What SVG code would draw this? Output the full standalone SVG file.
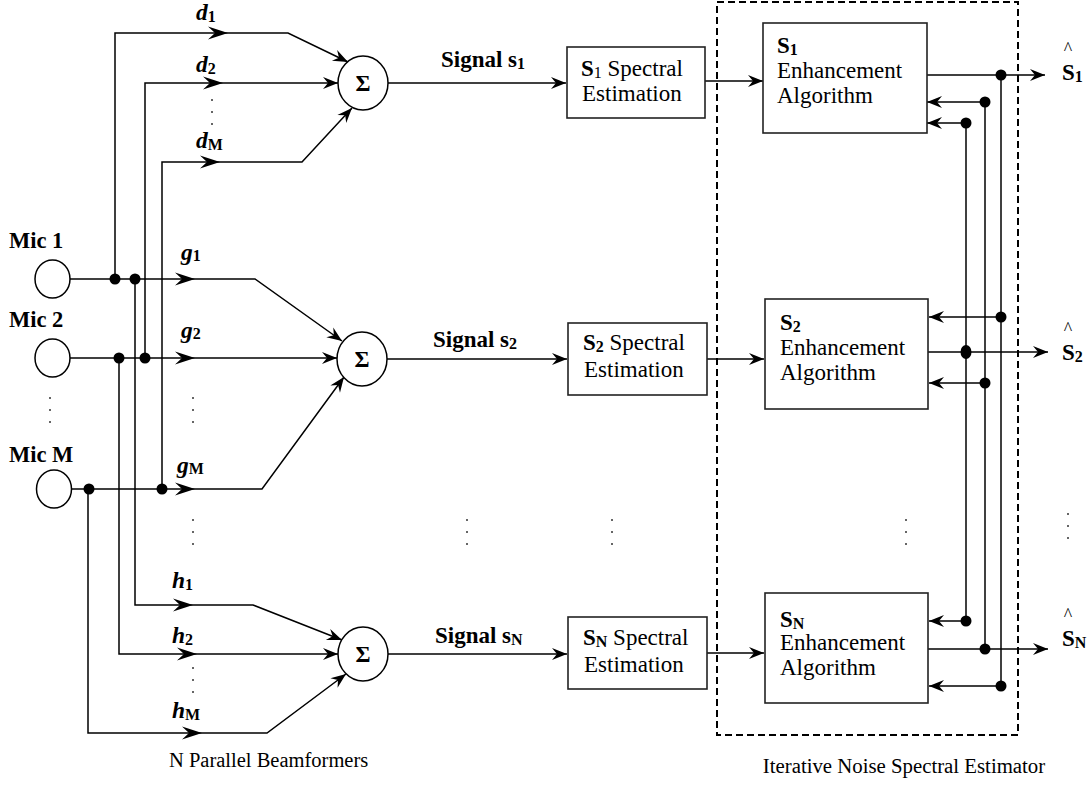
<svg xmlns="http://www.w3.org/2000/svg" width="1091" height="787" viewBox="0 0 1091 787">
<style>
.w{fill:none;stroke:#000;stroke-width:1.5}
.box{fill:#fff;stroke:#222;stroke-width:1.6}
.t{font-family:"Liberation Serif","Times New Roman",serif;fill:#000}
.b{font-weight:bold}
.i{font-style:italic}
.dot{fill:#000}
.sd{fill:#333}
.hat{font-size:18px}
</style>
<defs>
<marker id="a" viewBox="-21 -7 22 14" markerWidth="22" markerHeight="14" refX="0" refY="0" orient="auto" markerUnits="userSpaceOnUse"><path d="M0,0 L-20,-6.5 L-13,0 L-20,6.5 Z" fill="#000"/></marker>
<marker id="s" viewBox="-16 -7 17 14" markerWidth="17" markerHeight="14" refX="0" refY="0" orient="auto" markerUnits="userSpaceOnUse"><path d="M0,0 L-15,-6 L-10,0 L-15,6 Z" fill="#000"/></marker>
</defs>
<rect width="1091" height="787" fill="#fff"/>

<g id="estimator-frame">
<rect x="717" y="2" width="301" height="733" fill="none" stroke="#000" stroke-width="2" stroke-dasharray="7 4"/>
</g>

<g id="connectors">
<polyline class="w" points="115,279 115,33 228,33" marker-end="url(#a)"/>
<polyline class="w" points="228,33 288,33 348,62" marker-end="url(#s)"/>
<polyline class="w" points="145,358 145,83 223,83" marker-end="url(#a)"/>
<polyline class="w" points="223,83 338,83" marker-end="url(#s)"/>
<polyline class="w" points="162,489 162,162 220,162" marker-end="url(#a)"/>
<polyline class="w" points="220,162 302,162 352,108" marker-end="url(#s)"/>
<polyline class="w" points="70,279 195,279" marker-end="url(#a)"/>
<polyline class="w" points="195,279 255,279 342,341" marker-end="url(#s)"/>
<polyline class="w" points="70,358 195,358" marker-end="url(#a)"/>
<polyline class="w" points="195,358 337,358" marker-end="url(#s)"/>
<polyline class="w" points="71,489 195,489" marker-end="url(#a)"/>
<polyline class="w" points="195,489 262,489 344,377" marker-end="url(#s)"/>
<polyline class="w" points="135,279 135,605 193,605" marker-end="url(#a)"/>
<polyline class="w" points="193,605 253,605 342,640" marker-end="url(#s)"/>
<polyline class="w" points="119,358 119,654 197,654" marker-end="url(#a)"/>
<polyline class="w" points="197,654 338,654" marker-end="url(#s)"/>
<polyline class="w" points="88,489 88,733 202,733" marker-end="url(#a)"/>
<polyline class="w" points="202,733 267,733 346,674" marker-end="url(#s)"/>
<line class="w" x1="388" y1="83" x2="566" y2="83" marker-end="url(#s)"/>
<line class="w" x1="387" y1="359" x2="567" y2="359" marker-end="url(#s)"/>
<line class="w" x1="388" y1="654" x2="567" y2="654" marker-end="url(#s)"/>
<line class="w" x1="705" y1="81" x2="763" y2="81" marker-end="url(#s)"/>
<line class="w" x1="707" y1="359" x2="764" y2="359" marker-end="url(#s)"/>
<line class="w" x1="707" y1="653" x2="764" y2="653" marker-end="url(#s)"/>
<line class="w" x1="927" y1="75" x2="1045" y2="75" marker-end="url(#s)"/>
<line class="w" x1="928" y1="352" x2="1048" y2="352" marker-end="url(#s)"/>
<line class="w" x1="928" y1="649" x2="1048" y2="649" marker-end="url(#s)"/>
<line class="w" x1="966" y1="123" x2="966" y2="621"/>
<line class="w" x1="985" y1="102" x2="985" y2="649"/>
<line class="w" x1="1001" y1="75" x2="1001" y2="686"/>
<line class="w" x1="985" y1="102" x2="927" y2="102" marker-end="url(#s)"/>
<line class="w" x1="966" y1="123" x2="927" y2="123" marker-end="url(#s)"/>
<line class="w" x1="1001" y1="317" x2="929" y2="317" marker-end="url(#s)"/>
<line class="w" x1="985" y1="383" x2="929" y2="383" marker-end="url(#s)"/>
<line class="w" x1="966" y1="621" x2="929" y2="621" marker-end="url(#s)"/>
<line class="w" x1="1001" y1="686" x2="929" y2="686" marker-end="url(#s)"/>
<circle class="dot" cx="115" cy="279" r="5.5"/>
<circle class="dot" cx="135" cy="279" r="5.5"/>
<circle class="dot" cx="119" cy="358" r="5.5"/>
<circle class="dot" cx="145" cy="358" r="5.5"/>
<circle class="dot" cx="89" cy="489" r="5.5"/>
<circle class="dot" cx="162" cy="489" r="5.5"/>
<circle class="dot" cx="1001" cy="75" r="5.5"/>
<circle class="dot" cx="985" cy="102" r="5.5"/>
<circle class="dot" cx="966" cy="123" r="5.5"/>
<circle class="dot" cx="1001" cy="317" r="5.5"/>
<ellipse class="dot" cx="966" cy="352" rx="5.5" ry="7"/>
<circle class="dot" cx="985" cy="383" r="5.5"/>
<circle class="dot" cx="966" cy="621" r="5.5"/>
<circle class="dot" cx="985" cy="649" r="5.5"/>
<circle class="dot" cx="1001" cy="686" r="5.5"/>
</g>

<g id="ellipsis-dots">
<circle class="sd" cx="212" cy="100" r="1"/><circle class="sd" cx="212" cy="112" r="1"/><circle class="sd" cx="212" cy="124" r="1"/>
<circle class="sd" cx="50" cy="398" r="1"/><circle class="sd" cx="50" cy="410" r="1"/><circle class="sd" cx="50" cy="422" r="1"/>
<circle class="sd" cx="193" cy="398" r="1"/><circle class="sd" cx="193" cy="410" r="1"/><circle class="sd" cx="193" cy="422" r="1"/>
<circle class="sd" cx="193" cy="520" r="1"/><circle class="sd" cx="193" cy="532" r="1"/><circle class="sd" cx="193" cy="544" r="1"/>
<circle class="sd" cx="193" cy="668" r="1"/><circle class="sd" cx="193" cy="680" r="1"/><circle class="sd" cx="193" cy="692" r="1"/>
<circle class="sd" cx="467" cy="520" r="1"/><circle class="sd" cx="467" cy="532" r="1"/><circle class="sd" cx="467" cy="544" r="1"/>
<circle class="sd" cx="612" cy="520" r="1"/><circle class="sd" cx="612" cy="532" r="1"/><circle class="sd" cx="612" cy="544" r="1"/>
<circle class="sd" cx="906" cy="520" r="1"/><circle class="sd" cx="906" cy="532" r="1"/><circle class="sd" cx="906" cy="544" r="1"/>
<circle class="sd" cx="1068" cy="514" r="1"/><circle class="sd" cx="1068" cy="526" r="1"/><circle class="sd" cx="1068" cy="538" r="1"/>
</g>

<g id="mic1"><ellipse cx="52.5" cy="279" rx="17.5" ry="19" fill="#fff" stroke="#000" stroke-width="1.5"/><text class="t b" x="9" y="248" font-size="22.5">Mic 1</text></g>
<g id="mic2"><ellipse cx="52.5" cy="358" rx="17.5" ry="19" fill="#fff" stroke="#000" stroke-width="1.5"/><text class="t b" x="9" y="327" font-size="22.5">Mic 2</text></g>
<g id="micM"><ellipse cx="54" cy="489" rx="17.5" ry="19" fill="#fff" stroke="#000" stroke-width="1.5"/><text class="t b" x="9" y="462" font-size="22.5">Mic M</text></g>

<g id="weights" class="t b" font-size="23.5">
<text x="196" y="20"><tspan class="i">d</tspan><tspan font-size="16" dy="2">1</tspan></text>
<text x="196" y="72"><tspan class="i">d</tspan><tspan font-size="16" dy="2">2</tspan></text>
<text x="196" y="148"><tspan class="i">d</tspan><tspan font-size="16" dy="2">M</tspan></text>
<text x="181" y="260"><tspan class="i">g</tspan><tspan font-size="16" dy="1">1</tspan></text>
<text x="181" y="338"><tspan class="i">g</tspan><tspan font-size="16" dy="1">2</tspan></text>
<text x="177" y="473"><tspan class="i">g</tspan><tspan font-size="16" dy="1">M</tspan></text>
<text x="172" y="588"><tspan class="i">h</tspan><tspan font-size="16" dy="2">1</tspan></text>
<text x="172" y="643"><tspan class="i">h</tspan><tspan font-size="16" dy="2">2</tspan></text>
<text x="172" y="718"><tspan class="i">h</tspan><tspan font-size="16" dy="2">M</tspan></text>
</g>

<g id="sum1"><ellipse cx="363" cy="83" rx="25" ry="27" fill="#fff" stroke="#000" stroke-width="1.5"/><text class="t b" x="363" y="91" font-size="23" text-anchor="middle">Σ</text></g>
<g id="sum2"><ellipse cx="362" cy="359" rx="25" ry="27" fill="#fff" stroke="#000" stroke-width="1.5"/><text class="t b" x="362" y="367" font-size="23" text-anchor="middle">Σ</text></g>
<g id="sumN"><ellipse cx="363" cy="654" rx="25" ry="27" fill="#fff" stroke="#000" stroke-width="1.5"/><text class="t b" x="363" y="662" font-size="23" text-anchor="middle">Σ</text></g>

<g id="signal-labels" class="t b" font-size="23">
<text x="441" y="67">Signal s<tspan font-size="16" dy="2">1</tspan></text>
<text x="433" y="347">Signal s<tspan font-size="16" dy="2">2</tspan></text>
<text x="435" y="643">Signal s<tspan font-size="16" dy="2">N</tspan></text>
</g>

<g id="spec1"><rect class="box" x="567" y="47" width="138" height="71"/><text class="t" x="581" y="76" font-size="23"><tspan class="b">S</tspan><tspan font-size="16" dy="2">1</tspan><tspan dy="-2"> Spectral</tspan></text><text class="t" x="582" y="101" font-size="23">Estimation</text></g>
<g id="spec2"><rect class="box" x="568" y="323" width="139" height="72"/><text class="t" x="583" y="350" font-size="23"><tspan class="b">S</tspan><tspan class="b" font-size="16" dy="2">2</tspan><tspan dy="-2"> Spectral</tspan></text><text class="t" x="584" y="377" font-size="23">Estimation</text></g>
<g id="specN"><rect class="box" x="568" y="617" width="139" height="72"/><text class="t" x="583" y="645" font-size="23"><tspan class="b">S</tspan><tspan class="b" font-size="16" dy="2">N</tspan><tspan dy="-2"> Spectral</tspan></text><text class="t" x="584" y="672" font-size="23">Estimation</text></g>

<g id="enh1"><rect class="box" x="763" y="23" width="164" height="110"/><text class="t" x="777" y="53" font-size="23"><tspan class="b">S</tspan><tspan class="b" font-size="16" dy="2">1</tspan></text><text class="t" x="777" y="78" font-size="23">Enhancement</text><text class="t" x="777" y="103" font-size="23">Algorithm</text></g>
<g id="enh2"><rect class="box" x="765" y="299" width="163" height="110"/><text class="t" x="780" y="330" font-size="23"><tspan class="b">S</tspan><tspan class="b" font-size="16" dy="2">2</tspan></text><text class="t" x="780" y="355" font-size="23">Enhancement</text><text class="t" x="780" y="380" font-size="23">Algorithm</text></g>
<g id="enhN"><rect class="box" x="765" y="593" width="163" height="110"/><text class="t" x="780" y="627" font-size="23"><tspan class="b">S</tspan><tspan class="b" font-size="16" dy="2">N</tspan></text><text class="t" x="780" y="650" font-size="23">Enhancement</text><text class="t" x="780" y="675" font-size="23">Algorithm</text></g>

<g id="out1"><text class="t hat" x="1068" y="55" text-anchor="middle">^</text><text class="t b" x="1062" y="80" font-size="23">S<tspan font-size="16" dy="2">1</tspan></text></g>
<g id="out2"><text class="t hat" x="1068" y="335" text-anchor="middle">^</text><text class="t b" x="1062" y="360" font-size="23">S<tspan font-size="16" dy="2">2</tspan></text></g>
<g id="outN"><text class="t hat" x="1068" y="621" text-anchor="middle">^</text><text class="t b" x="1062" y="646" font-size="23">S<tspan font-size="16" dy="2">N</tspan></text></g>

<g id="captions">
<text class="t" x="169" y="767" font-size="20.5">N Parallel Beamformers</text>
<text class="t" x="904" y="773" font-size="20.8" text-anchor="middle">Iterative Noise Spectral Estimator</text>
</g>
</svg>
